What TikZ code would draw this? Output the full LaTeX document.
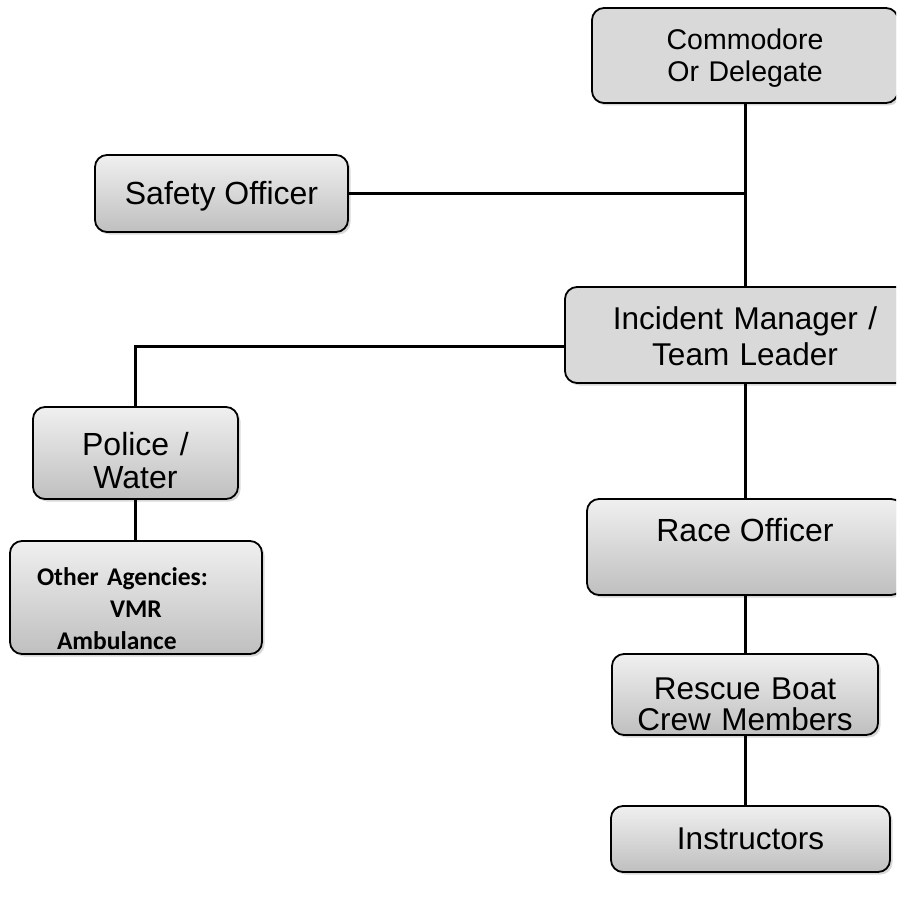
\documentclass[tikz,border=0pt]{standalone}
\usepackage{fontspec}
\setmainfont{Liberation Sans}
\newfontfamily\agencyfont{Carlito}
\usepackage{tikz}
\usetikzlibrary{shadows}
\tikzset{
  orgbox/.style={draw, line width=1.8pt, rounded corners=12pt, top color=black!6, bottom color=black!25,
    drop shadow={shadow xshift=2.5pt, shadow yshift=-2.5pt, fill=black!30}, align=center, inner sep=0pt},
  flatbox/.style={orgbox, top color=black!15, bottom color=black!15},
  link/.style={line width=3pt}
}

\begin{document}
\begin{tikzpicture}[x=1pt, y=-1pt]
\useasboundingbox (0,0) rectangle (896,901);
\clip (0,0) rectangle (896,901);
%%%%%right column
\node[flatbox, minimum width=306pt, text width=306pt, text height=42pt, text depth=53pt,
  font=\fontsize{28.5}{32}\selectfont] (commodore) at (745,55.5) {Commodore\\Or Delegate};
\node[flatbox, minimum width=360pt, text width=355pt, text height=42pt, text depth=54pt,
  font=\fontsize{31.5}{36}\selectfont] (incident) at (745,335) {Incident Manager /\\Team Leader};
\node[orgbox, minimum width=316pt, text height=42.5pt, text depth=53.5pt, font=\fontsize{32}{36}\selectfont] (race) at (745,547) {Race Officer};
\node[orgbox, minimum width=266pt, text width=266pt, text height=45pt, text depth=36pt,
  font=\fontsize{31.5}{31}\selectfont] (rescue) at (745,694.5) {Rescue Boat\\Crew Members};
\node[orgbox, minimum width=279pt, text height=43pt, text depth=23pt, font=\fontsize{31.5}{36}\selectfont] (instructors) at (750.5,839) {Instructors};
%%%%%left side
\node[orgbox, minimum width=253pt, text height=50pt, text depth=27pt, font=\fontsize{32}{36}\selectfont] (safety) at (221.5,193.5) {Safety Officer};
\node[orgbox, minimum width=205pt, text width=205pt, text height=48pt, text depth=44pt,
  font=\fontsize{32}{33}\selectfont] (police) at (135.5,453) {Police /\\Water};
\node[orgbox, minimum width=252pt, text width=198pt, align=left, text height=44pt, text depth=69pt,
  font=\agencyfont\bfseries\fontsize{25.5}{32}\selectfont] (agencies) at (136,597.5)
  {Other Agencies:\\\hspace*{73pt}VMR\\\hspace*{20pt}Ambulance};
%%%%%connectors
\draw[link] (commodore.south) -- (incident.north);
\draw[link] (safety.east) -- (safety.east -| commodore.south);
\draw[link] ([yshift=-11pt]incident.west) -| (police.north);
\draw[link] (police.south) -- (police.south |- agencies.north);
\draw[link] (incident.south) -- (race.north);
\draw[link] (race.south) -- (rescue.north);
\draw[link] (rescue.south) -- (rescue.south |- instructors.north);
\end{tikzpicture}
\end{document}
